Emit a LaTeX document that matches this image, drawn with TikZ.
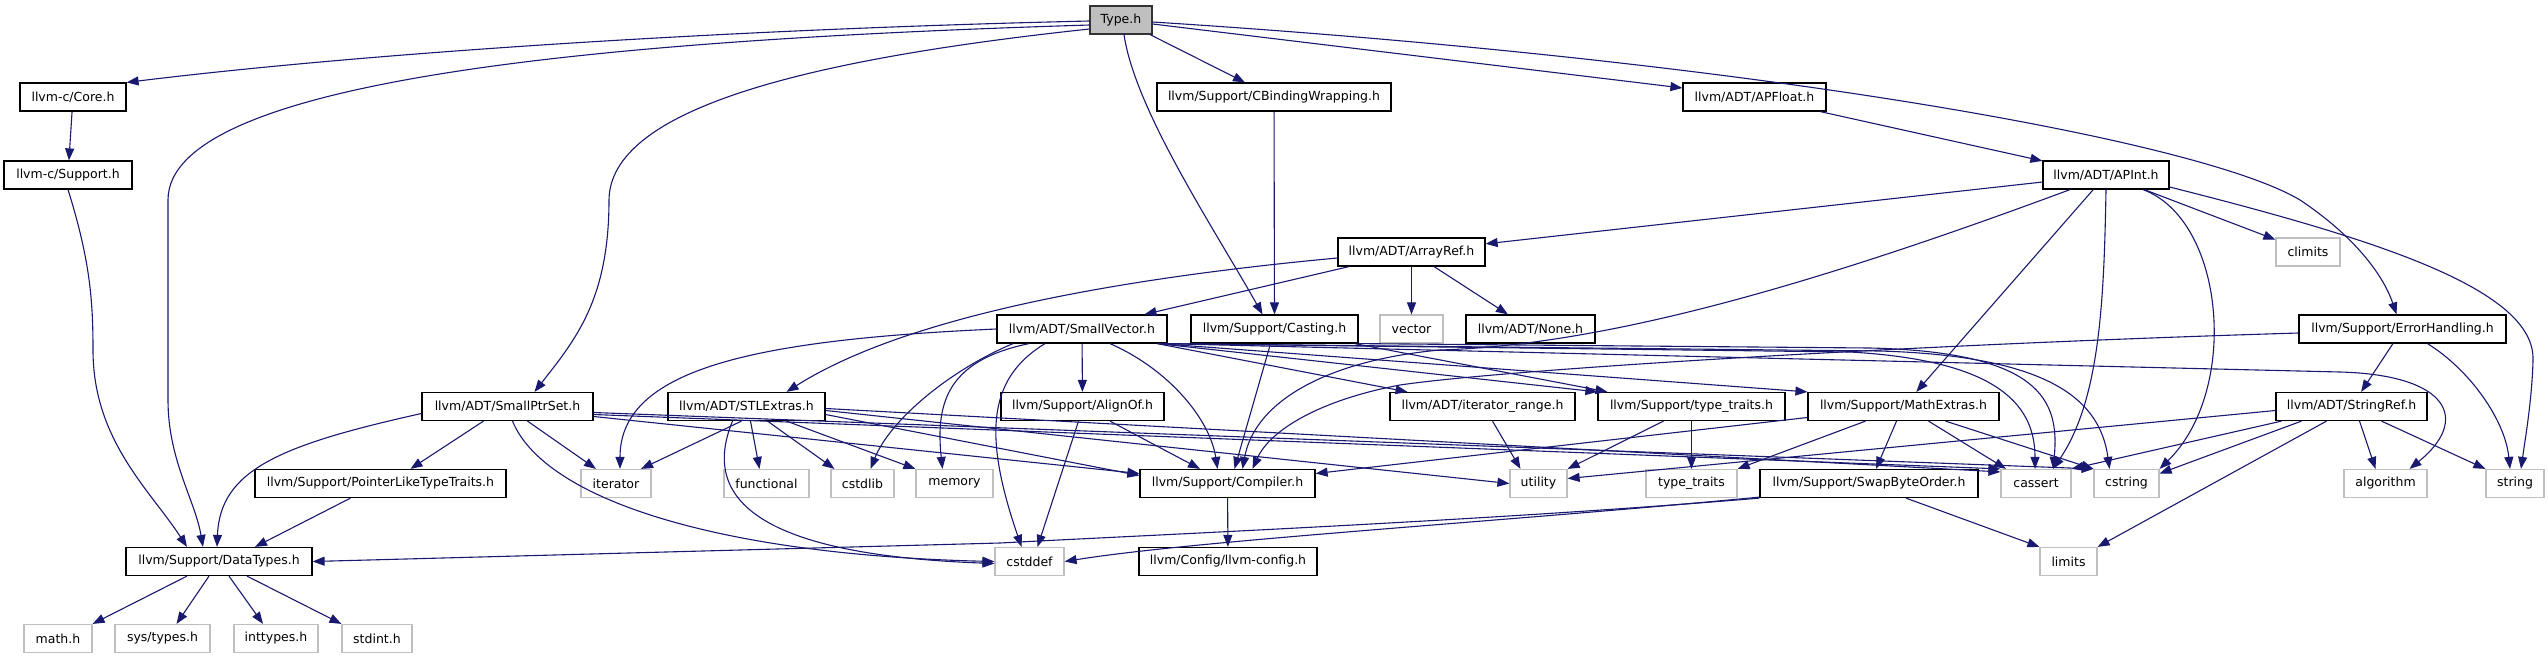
\documentclass[tikz,border=0pt]{standalone}
\usepackage{fontspec}
\setmainfont{DejaVu Sans}
\usetikzlibrary{arrows.meta}
\definecolor{edgec}{RGB}{25,25,112}
\definecolor{grayb}{RGB}{191,191,191}
\begin{document}
\begin{tikzpicture}[x=1pt,y=-1pt,
  box/.style={draw=black, line width=1.2pt, minimum height=28pt, inner sep=0pt, font=\fontsize{12.5}{15}\selectfont, text=black},
  sys/.style={box, draw=grayb},
  root/.style={box, fill=grayb, draw=black!80},
  edge/.style={draw=edgec, line width=1.1pt, -{Triangle[length=12pt,width=9pt]}}]
\useasboundingbox (0,0) rectangle (2548,659);
\fill[white] (0,0) rectangle (2548,659);
% row 1
\node[root, minimum width=62pt] (Type) at (1121,20) {Type.h};
% row 2
\node[box, minimum width=106pt] (Core) at (73,97) {llvm-c/Core.h};
\node[box, minimum width=234pt] (CBind) at (1274,97) {llvm/Support/CBindingWrapping.h};
\node[box, minimum width=143pt] (APFloat) at (1754.5,97) {llvm/ADT/APFloat.h};
% row 3
\node[box, minimum width=128pt] (CSupp) at (68,175) {llvm-c/Support.h};
\node[box, minimum width=126pt] (APInt) at (2106,175) {llvm/ADT/APInt.h};
% row 4
\node[box, minimum width=147pt] (ArrayRef) at (1411.5,252) {llvm/ADT/ArrayRef.h};
\node[sys, minimum width=64pt] (climits) at (2308,252) {climits};
% row 5
\node[box, minimum width=170pt] (SmallVector) at (1082,329) {llvm/ADT/SmallVector.h};
\node[box, minimum width=167pt] (Casting) at (1274.5,329) {llvm/Support/Casting.h};
\node[sys, minimum width=63pt] (vector) at (1411.5,329) {vector};
\node[box, minimum width=129pt] (None) at (1530.5,329) {llvm/ADT/None.h};
\node[box, minimum width=207pt] (ErrH) at (2402.5,329) {llvm/Support/ErrorHandling.h};
% row 6
\node[box, minimum width=171pt] (SPS) at (507.5,406.5) {llvm/ADT/SmallPtrSet.h};
\node[box, minimum width=157pt] (STLX) at (746.5,406.5) {llvm/ADT/STLExtras.h};
\node[box, minimum width=163pt] (AlignOf) at (1082.5,406.5) {llvm/Support/AlignOf.h};
\node[box, minimum width=185pt] (itrange) at (1482.5,406.5) {llvm/ADT/iterator\_range.h};
\node[box, minimum width=187pt] (tth) at (1691.5,406.5) {llvm/Support/type\_traits.h};
\node[box, minimum width=191pt] (MathX) at (1903.5,406.5) {llvm/Support/MathExtras.h};
\node[box, minimum width=151pt] (StrRef) at (2351.5,406.5) {llvm/ADT/StringRef.h};
% row 7
\node[box, minimum width=251pt] (PLT) at (380.5,483.5) {llvm/Support/PointerLikeTypeTraits.h};
\node[sys, minimum width=70pt] (iterator) at (616,483.5) {iterator};
\node[sys, minimum width=85pt] (functional) at (766.5,483.5) {functional};
\node[sys, minimum width=63pt] (cstdlib) at (862.5,483.5) {cstdlib};
\node[sys, minimum width=77pt] (memory) at (954.5,483.5) {memory};
\node[box, minimum width=175pt] (Compiler) at (1227.5,483.5) {llvm/Support/Compiler.h};
\node[sys, minimum width=57pt] (utility) at (1538.5,483.5) {utility};
\node[sys, minimum width=91pt] (tt) at (1691.5,483.5) {type\_traits};
\node[box, minimum width=218pt] (Swap) at (1869,483.5) {llvm/Support/SwapByteOrder.h};
\node[sys, minimum width=70pt] (cassert) at (2036,483.5) {cassert};
\node[sys, minimum width=65pt] (cstring) at (2126.5,483.5) {cstring};
\node[sys, minimum width=83pt] (algorithm) at (2385.5,483.5) {algorithm};
\node[sys, minimum width=58pt] (string) at (2515,483.5) {string};
% row 8
\node[box, minimum width=186pt] (DataTypes) at (219,561.5) {llvm/Support/DataTypes.h};
\node[sys, minimum width=69pt] (cstddef) at (1029.5,561.5) {cstddef};
\node[box, minimum width=178pt] (config) at (1228,561.5) {llvm/Config/llvm-config.h};
\node[sys, minimum width=57pt] (limits) at (2068.5,561.5) {limits};
% row 9
\node[sys, minimum width=68pt] (math) at (58,638.5) {math.h};
\node[sys, minimum width=95pt] (systypes) at (162.5,638.5) {sys/types.h};
\node[sys, minimum width=84pt] (inttypes) at (276,638.5) {inttypes.h};
\node[sys, minimum width=70pt] (stdint) at (377,638.5) {stdint.h};

% ---- edges from Type.h
\draw[edge] ([yshift=-1pt]Type.west) .. controls (700,30) and (350,55) .. (Core.north east);
\draw[edge] ([yshift=-5pt]Type.west) .. controls (600,40) and (168,80) .. (168,200) -- (168,400) .. controls (168,460) and (195,500) .. ([xshift=-16pt]DataTypes.north);
\draw[edge] ([yshift=-9pt]Type.west) .. controls (800,60) and (610,110) .. (609,200) .. controls (609,300) and (575,340) .. ([xshift=27pt]SPS.north);
\draw[edge] (Type) -- (CBind);
\draw[edge] ([xshift=3pt]Type.south) .. controls (1135,110) and (1215,230) .. ([xshift=-12pt]Casting.north);
\draw[edge] ([yshift=-4pt]Type.east) -- ([yshift=9pt]APFloat.west);
\draw[edge] ([yshift=-2pt]Type.east) .. controls (1750,60) and (2200,140) .. (2300,200) .. controls (2360,240) and (2385,280) .. ([xshift=-6pt]ErrH.north);
% ---- llvm-c
\draw[edge] (Core) -- (CSupp);
\draw[edge] (CSupp.south) .. controls (90,260) and (93,300) .. (93,350) .. controls (93,440) and (150,490) .. ([xshift=-32pt]DataTypes.north);
% ---- CBinding, APFloat
\draw[edge] (CBind) -- (Casting);
\draw[edge] (APFloat) -- (APInt);
% ---- APInt
\draw[edge] (APInt) -- (ArrayRef);
\draw[edge] ([xshift=-36pt]APInt.south) .. controls (1800,290) and (1600,345) .. (1440,350) .. controls (1330,360) and (1255,400) .. ([xshift=15pt]Compiler.north);
\draw[edge] (APInt) -- (MathX);
\draw[edge] (APInt.south) .. controls (2104,300) and (2100,400) .. ([xshift=17pt]cassert.north);
\draw[edge] ([xshift=37pt]APInt.south) .. controls (2225,220) and (2240,390) .. (cstring.north east);
\draw[edge] (APInt) -- (climits);
\draw[edge] ([yshift=-12pt]APInt.east) .. controls (2380,240) and (2535,290) .. (2533,360) .. controls (2532,400) and (2525,440) .. ([xshift=6pt]string.north);
% ---- ArrayRef
\draw[edge] (ArrayRef) -- (SmallVector);
\draw[edge] ([yshift=-6pt]ArrayRef.west) .. controls (1100,280) and (900,320) .. ([xshift=40pt]STLX.north);
\draw[edge] (ArrayRef) -- (vector);
\draw[edge] (ArrayRef) -- (None);
% ---- ErrorHandling
\draw[edge] ([yshift=-4pt]ErrH.west) .. controls (1900,345) and (1500,370) .. (1400,385) .. controls (1320,400) and (1270,430) .. ([xshift=25pt]Compiler.north);
\draw[edge] (ErrH) -- (StrRef);
\draw[edge] ([xshift=25pt]ErrH.south) .. controls (2470,370) and (2505,420) .. ([xshift=-5pt]string.north);
% ---- SmallVector
\draw[edge] (SmallVector.west) .. controls (750,340) and (620,370) .. ([xshift=4pt]iterator.north);
\draw[edge] ([xshift=-69pt]SmallVector.south) .. controls (950,370) and (890,420) .. ([xshift=8pt]cstdlib.north);
\draw[edge] ([xshift=-53pt]SmallVector.south) .. controls (950,360) and (935,400) .. ([xshift=-12pt]memory.north);
\draw[edge] ([xshift=-37pt]SmallVector.south) .. controls (985,380) and (985,440) .. ([xshift=-8pt]cstddef.north);
\draw[edge] (SmallVector) -- (AlignOf);
\draw[edge] ([xshift=28pt]SmallVector.south) .. controls (1170,370) and (1210,420) .. ([xshift=-10pt]Compiler.north);
\draw[edge] ([xshift=75pt]SmallVector.south) -- ([xshift=-75pt]itrange.north);
\draw[edge] ([xshift=-10pt]SmallVector.south east) -- (tth.north west);
\draw[edge] ([xshift=-8pt]SmallVector.south east) -- (MathX.north west);
\draw[edge] ([xshift=-2pt]SmallVector.south east) -- (1850,352) .. controls (1990,360) and (2035,400) .. ([xshift=-1pt]cassert.north);
\draw[edge] ([xshift=-6pt]SmallVector.south east) -- (1880,351) .. controls (2050,356) and (2100,400) .. ([xshift=-17pt]cstring.north);
\draw[edge] ([xshift=-4pt]SmallVector.south east) -- (2340,372) .. controls (2450,375) and (2470,420) .. ([xshift=24pt]algorithm.north);
% ---- Casting
\draw[edge] ([xshift=-4pt]Casting.south) -- ([xshift=7pt]Compiler.north);
\draw[edge] ([xshift=-4pt]Casting.south east) -- ([xshift=-84pt]tth.north);
\draw[edge] (Casting.south east) -- (1870,348) .. controls (2040,352) and (2060,400) .. ([xshift=17pt]cassert.north);
% ---- SmallPtrSet
\draw[edge] ([yshift=-7pt]SPS.west) .. controls (280,445) and (220,470) .. ([xshift=-2pt]DataTypes.north);
\draw[edge] ([xshift=-24pt]SPS.south) -- ([xshift=30pt]PLT.north);
\draw[edge] ([xshift=20pt]SPS.south) -- ([xshift=-20pt]iterator.north);
\draw[edge] ([xshift=5pt]SPS.south) .. controls (545,500) and (720,555) .. (cstddef.west);
\draw[edge] ([yshift=-10pt]SPS.east) -- ([yshift=10pt]Compiler.west);
\draw[edge] ([yshift=-8pt]SPS.east) -- (cassert.north west);
\draw[edge] ([yshift=-6pt]SPS.east) -- (cstring.north west);
% ---- STLExtras
\draw[edge] ([xshift=-5pt]STLX.south) -- ([xshift=25pt]iterator.north);
\draw[edge] ([xshift=4pt]STLX.south) -- ([xshift=-7pt]functional.north);
\draw[edge] ([xshift=21pt]STLX.south) -- ([xshift=-28pt]cstdlib.north);
\draw[edge] ([xshift=40pt]STLX.south) -- (memory.north west);
\draw[edge] ([xshift=-14pt]STLX.south) .. controls (700,500) and (760,555) .. ([yshift=-2pt]cstddef.west);
\draw[edge] ([yshift=-8pt]STLX.east) -- ([yshift=8pt]Compiler.west);
\draw[edge] ([yshift=-4pt]STLX.east) -- (utility.west);
\draw[edge] ([yshift=-2pt]STLX.east) -- ([yshift=-3pt]cassert.north west);
% ---- AlignOf, iterator_range, type_traits.h
\draw[edge] (AlignOf) -- (Compiler);
\draw[edge] ([xshift=-4pt]AlignOf.south) -- ([xshift=8pt]cstddef.north);
\draw[edge] ([xshift=10pt]itrange.south) -- ([xshift=-18pt]utility.north);
\draw[edge] ([xshift=-28pt]tth.south) -- (utility.north east);
\draw[edge] (tth) -- (tt);
% ---- MathExtras
\draw[edge] ([xshift=-38pt]MathX.south) -- (tt.north east);
\draw[edge] ([xshift=-7pt]MathX.south) -- ([xshift=7pt]Swap.north);
\draw[edge] ([xshift=25pt]MathX.south) -- ([xshift=-30pt]cassert.north);
\draw[edge] ([xshift=42pt]MathX.south) -- (cstring.north west);
\draw[edge] ([yshift=-11pt]MathX.west) -- ([yshift=10pt]Compiler.east);
% ---- SwapByteOrder
\draw[edge] (Swap.south west) .. controls (1500,520) and (1150,535) .. (1000,543) -- (DataTypes.east);
\draw[edge] ([yshift=1pt]Swap.south west) .. controls (1500,522) and (1200,540) .. (cstddef.east);
\draw[edge] ([xshift=37pt]Swap.south) -- (limits.north west);
% ---- Compiler
\draw[edge] (Compiler) -- (config);
% ---- StringRef
\draw[edge] ([yshift=-4pt]StrRef.west) -- ([yshift=5pt]utility.east);
\draw[edge] ([xshift=-70pt]StrRef.south) -- (cassert.north east);
\draw[edge] ([xshift=-50pt]StrRef.south) -- ([yshift=10pt]cstring.east);
\draw[edge] ([xshift=-25pt]StrRef.south) -- (limits.north east);
\draw[edge] ([xshift=8pt]StrRef.south) -- ([xshift=-10pt]algorithm.north);
\draw[edge] ([xshift=30pt]StrRef.south) -- (string.north west);
% ---- PointerLikeTypeTraits
\draw[edge] ([xshift=-30pt]PLT.south) -- ([xshift=36pt]DataTypes.north);
% ---- DataTypes
\draw[edge] ([xshift=-32pt]DataTypes.south) -- (math.north east);
\draw[edge] ([xshift=-10pt]DataTypes.south) -- ([xshift=14pt]systypes.north);
\draw[edge] ([xshift=10pt]DataTypes.south) -- ([xshift=-13pt]inttypes.north);
\draw[edge] ([xshift=28pt]DataTypes.south) -- (stdint.north west);
\end{tikzpicture}
\end{document}
